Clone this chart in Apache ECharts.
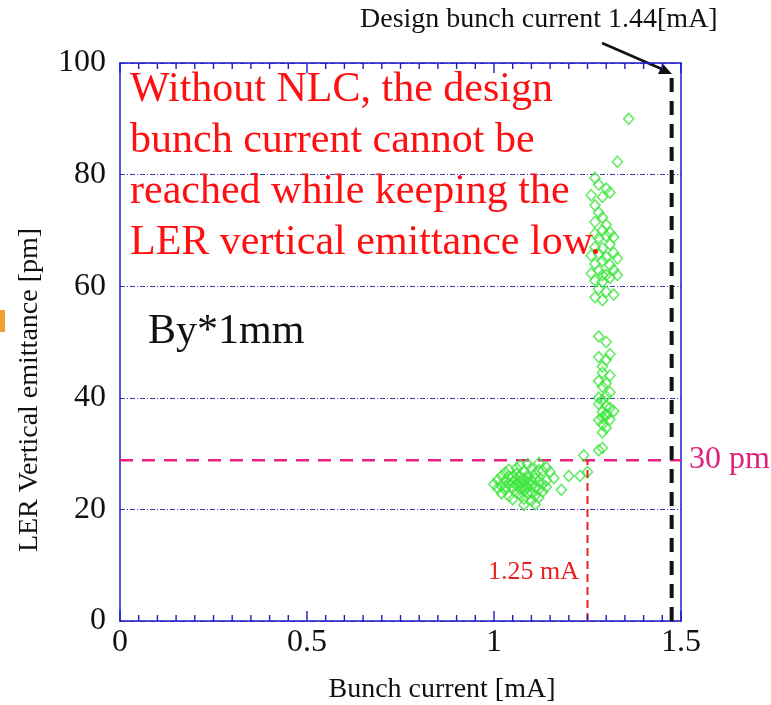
<!DOCTYPE html>
<html>
<head>
<meta charset="utf-8">
<script src="https://cdn.jsdelivr.net/npm/echarts@6/dist/echarts.min.js"></script>
<style>
  html, body { margin: 0; padding: 0; background: #fff; }
  #main { width: 771px; height: 705px; }
</style>
</head>
<body>
<div id="main"></div>
<script>
  // measured points: [bunch current mA, emittance pm]
  var lowCluster = [
    [1.00,24.5],[1.01,25.3],[1.01,23.8],[1.02,26.0],[1.02,24.2],[1.02,22.9],[1.03,25.1],[1.03,23.5],
    [1.03,26.6],[1.04,24.6],[1.04,22.4],[1.04,27.1],[1.05,25.8],[1.05,23.9],[1.05,24.9],[1.05,21.8],
    [1.06,26.3],[1.06,24.4],[1.06,23.1],[1.06,25.4],[1.07,27.9],[1.07,24.8],[1.07,22.6],[1.07,25.9],
    [1.07,23.7],[1.08,24.2],[1.08,26.8],[1.08,25.3],[1.08,21.9],[1.08,23.4],[1.09,24.9],[1.09,26.1],
    [1.09,22.8],[1.09,25.6],[1.09,23.9],[1.10,24.4],[1.10,27.3],[1.10,21.6],[1.10,25.1],[1.10,23.0],
    [1.11,26.4],[1.11,24.0],[1.11,22.5],[1.11,25.5],[1.12,28.3],[1.12,23.6],[1.12,25.0],[1.12,22.1],
    [1.13,26.9],[1.13,24.6],[1.13,23.2],[1.14,27.5],[1.14,25.2],[1.15,26.7],[1.09,28.1],[1.06,27.4],
    [1.04,25.9],[1.11,20.9],[1.08,20.8],[1.03,24.1],[1.14,24.0],[1.12,27.0]
  ];
  var transition = [
    [1.16,25.6],[1.18,23.5],[1.20,26.0],[1.23,26.0],[1.25,26.7],[1.24,29.7],[1.28,30.6],[1.29,31.0]
  ];
  var column = [
    [1.28,36.0],[1.29,35.2],[1.30,36.8],[1.29,37.5],[1.31,38.2],[1.28,38.9],[1.30,37.0],[1.29,39.6],
    [1.31,36.1],[1.30,34.6],[1.29,36.5],[1.32,37.6],[1.30,40.3],[1.28,40.0],[1.31,41.0],[1.29,33.8],
    [1.30,38.5],
    [1.28,43.0],[1.30,42.6],[1.29,44.5],[1.31,44.0],[1.29,45.6],[1.30,46.8],[1.28,47.3],[1.31,47.8],
    [1.29,42.0],[1.28,51.0],[1.30,50.0],
    [1.27,58.0],[1.29,57.5],[1.28,59.5],[1.30,59.0],[1.32,58.5],[1.27,61.0],[1.29,60.8],[1.31,61.5],
    [1.26,62.3],[1.28,62.8],[1.30,62.0],[1.32,62.9],[1.27,64.0],[1.29,64.5],[1.31,63.8],[1.28,65.8],
    [1.30,65.2],[1.32,66.0],[1.27,67.0],[1.29,66.8],[1.31,67.5],[1.28,68.6],[1.30,69.0],[1.32,68.8],
    [1.29,70.0],[1.31,69.6],[1.27,69.4],[1.33,65.0],[1.26,65.5],[1.29,62.0],[1.33,62.0],
    [1.27,71.5],[1.29,72.3],[1.28,73.2],[1.30,71.0],[1.27,74.5],[1.29,76.0],[1.31,76.8],[1.26,76.3],
    [1.30,77.5],[1.28,78.2],[1.27,79.4],[1.33,82.3],[1.36,90.0]
  ];

  // reference lines
  var designLine = [[1.475, 0], [1.475, 98]];
  var limitLine = [[0, 28.8], [1.5, 28.8]];
  var currentLine = [[1.25, 0], [1.25, 28.8]];

  var xTicks = [0, 0.5, 1, 1.5];
  var yTicks = [0, 20, 40, 60, 80, 100];
  // short tick marks between the labelled ones, on the top and bottom frame
  var xMinorTicks = [0.05, 0.1, 0.15, 0.2, 0.25, 0.3, 0.35, 0.4, 0.45, 0.55, 0.6, 0.65, 0.7, 0.75,
    0.8, 0.85, 0.9, 0.95, 1.05, 1.1, 1.15, 1.2, 1.25, 1.3, 1.35, 1.4, 1.45];

  var serif = 'Liberation Serif';
  var boxColor = '#1c1ccc';

  var chart = echarts.init(document.getElementById('main'));

  var diamond = {
    type: 'scatter',
    symbol: 'diamond',
    symbolSize: [10, 11],
    itemStyle: { color: 'rgba(0,0,0,0)', borderColor: '#3ee63e', borderWidth: 1.6 },
    z: 3
  };

  // frame tick marks as thin rect symbols sitting on the frame edge
  function tickMarks(values, yVal, len) {
    return {
      type: 'scatter', silent: true, clip: false, z: 6,
      data: values.map(function (v) { return [v, yVal]; }),
      symbol: 'rect',
      symbolSize: [1.4, len],
      symbolOffset: [0, yVal === 0 ? -len / 2 : len / 2],
      itemStyle: { color: boxColor, opacity: 1 }
    };
  }

  var option = {
    backgroundColor: '#fff',
    animation: false,
    grid: { left: 120, right: 90, top: 63, bottom: 84 },
    xAxis: [{
      type: 'value', min: 0, max: 1.5, interval: 0.5,
      axisLine: { show: true, lineStyle: { color: boxColor, width: 1.5 } },
      axisTick: { show: false },
      axisLabel: { fontFamily: serif, fontSize: 32, color: '#111', margin: 6,
        formatter: function (v) { return xTicks.indexOf(v) >= 0 ? String(v) : ''; } },
      splitLine: { show: false }
    }, {
      type: 'value', min: 0, max: 1.5, interval: 0.5, position: 'top',
      axisLine: { show: true, onZero: false, lineStyle: { color: boxColor, width: 1.5 } },
      axisTick: { show: false },
      axisLabel: { show: false },
      splitLine: { show: false }
    }],
    yAxis: [{
      type: 'value', min: 0, max: 100, interval: 20,
      axisLine: { show: true, lineStyle: { color: boxColor, width: 1.5 } },
      axisTick: { show: false },
      axisLabel: { fontFamily: serif, fontSize: 32, color: '#111', margin: 14,
        formatter: function (v) { return yTicks.indexOf(v) >= 0 ? String(v) : ''; } },
      splitLine: { show: true, lineStyle: { color: '#3a3ab0', width: 1.2, type: [5, 2, 1, 2] } }
    }, {
      type: 'value', min: 0, max: 100, interval: 20, position: 'right',
      axisLine: { show: true, onZero: false, lineStyle: { color: boxColor, width: 1.5 } },
      axisTick: { show: false },
      axisLabel: { show: false },
      splitLine: { show: false }
    }],
    series: [
      Object.assign({ name: 'low', data: lowCluster }, diamond),
      Object.assign({ name: 'transition', data: transition }, diamond),
      Object.assign({ name: 'column', data: column }, diamond),
      {
        type: 'line', data: limitLine, symbol: 'none', z: 2,
        lineStyle: { color: '#e8207e', width: 2.5, type: [13, 9] }
      },
      {
        type: 'line', data: currentLine, symbol: 'none', z: 4,
        lineStyle: { color: '#e82020', width: 2, type: [8, 5] }
      },
      {
        type: 'line', data: designLine, symbol: 'none', z: 2,
        lineStyle: { color: '#111', width: 4, type: [14, 9] }
      },
      tickMarks(xTicks, 0, 10),
      tickMarks(xMinorTicks, 0, 6),
      tickMarks(xTicks, 100, 10),
      tickMarks(xMinorTicks, 100, 6)
    ],
    graphic: [
      {
        type: 'text', left: 130, top: 64,
        style: {
          text: 'Without NLC, the design\nbunch current cannot be\nreached while keeping the\nLER vertical emittance low.',
          fontFamily: serif, fontSize: 42, lineHeight: 51, fill: '#ff1010'
        }, z: 10
      },
      {
        type: 'text', left: 148, top: 311,
        style: { text: 'By*1mm', fontFamily: serif, fontSize: 42, fill: '#111' }, z: 10
      },
      {
        type: 'text', left: 360, top: 6,
        style: { text: 'Design bunch current 1.44[mA]', fontFamily: serif, fontSize: 28, fill: '#111' }
      },
      {
        type: 'text', x: 442, y: 690,
        style: { text: 'Bunch current [mA]', fontFamily: serif, fontSize: 28, fill: '#111',
          align: 'center', verticalAlign: 'middle' }
      },
      {
        type: 'text', x: 30, y: 390, rotation: Math.PI / 2,
        style: { text: 'LER Vertical emittance [pm]', fontFamily: serif, fontSize: 28, fill: '#111',
          align: 'center', verticalAlign: 'middle' }
      },
      {
        type: 'line', shape: { x1: 602, y1: 43, x2: 664, y2: 70 },
        style: { stroke: '#111', lineWidth: 2.5 }
      },
      {
        type: 'polygon', shape: { points: [[672, 74], [658, 74], [663, 64]] },
        style: { fill: '#111' }
      },
      {
        type: 'text', left: 689, top: 444,
        style: { text: '30 pm', fontFamily: serif, fontSize: 32, fill: '#e0207a' }
      },
      {
        type: 'text', left: 488, top: 559,
        style: { text: '1.25 mA', fontFamily: serif, fontSize: 26, fill: '#e82020' }
      },
      {
        type: 'rect', shape: { x: 0, y: 310, width: 5, height: 22 },
        style: { fill: '#f0a030' }
      }
    ]
  };

  option && chart.setOption(option);
</script>
</body>
</html>
